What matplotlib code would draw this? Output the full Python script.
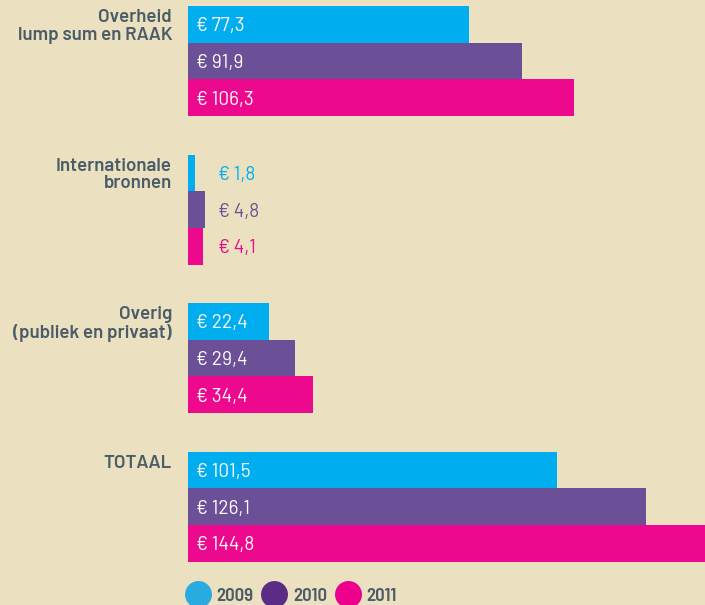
import matplotlib
matplotlib.use("Agg")
import matplotlib.pyplot as plt
from matplotlib.lines import Line2D

categories = ["Overheid\nlump sum en RAAK", "Internationale\nbronnen",
              "Overig\n(publiek en privaat)", "TOTAAL"]
years = ["2009", "2010", "2011"]
values = {
    "2009": [77.3, 1.8, 22.4, 101.5],
    "2010": [91.9, 4.8, 29.4, 126.1],
    "2011": [106.3, 4.1, 34.4, 144.8],
}
bar_colors = ["#00aeef", "#6b5097", "#ec098d"]
legend_colors = ["#29abe2", "#5b2c86", "#ec008c"]

bg = "#ebe0bf"
label_col = "#4a5c68"
fam = ["Barlow", "DejaVu Sans"]
fam_narrow = ["Barlow Semi Condensed", "DejaVu Sans"]

fig = plt.figure(figsize=(7.05, 6.05), dpi=100, facecolor=bg)
ax = fig.add_axes([188 / 705, 0, 517 / 705, 1])
ax.set_facecolor(bg)
ax.set_xlim(0, 142.3)
ax.set_ylim(3.663, -0.411)
ax.axis("off")

h = 0.247
for j, yr in enumerate(years):
    ys = [i + (j - 1) * h for i in range(len(categories))]
    ax.barh(ys, values[yr], height=h, color=bar_colors[j], linewidth=0)
    for y, v in zip(ys, values[yr]):
        txt = "€ " + f"{v:.1f}".replace(".", ",")
        if v < 10:
            # small bars: label outside, in the bar colour
            ax.annotate(txt, (0, y), xytext=(30, -2), textcoords="offset pixels",
                        va="center", ha="left", color=bar_colors[j],
                        fontsize=13.7, family=fam)
        else:
            ax.annotate(txt, (0, y), xytext=(8, -2), textcoords="offset pixels",
                        va="center", ha="left", color="white",
                        fontsize=13.7, family=fam)

for i, cat in enumerate(categories):
    ax.annotate(cat, (0, i - 1.5 * h), xytext=(-16, -3), textcoords="offset pixels",
                va="top", ha="right", color=label_col, fontsize=13.5,
                fontweight="semibold", family=fam, linespacing=1.05)

handles = [Line2D([], [], marker="o", linestyle="none", markersize=19.4,
                  markerfacecolor=c, markeredgewidth=0) for c in legend_colors]
fig.legend(handles, years, loc="center left", bbox_to_anchor=(184 / 705, 1 - 596 / 605),
           ncol=3, frameon=False, borderpad=0, borderaxespad=0, handlelength=1.44,
           handletextpad=0.27, columnspacing=0.4,
           prop={"family": fam_narrow, "size": 13.5, "weight": "semibold"},
           labelcolor=label_col)

fig.savefig("out.png", facecolor=bg)
